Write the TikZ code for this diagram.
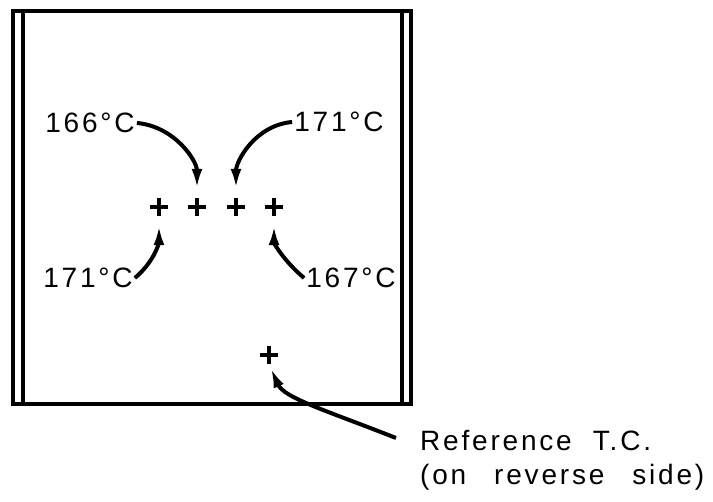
\documentclass[tikz,border=0pt]{standalone}
\usepackage{fontspec}
\newfontfamily\lettering[LetterSpace=10]{Liberation Sans}
\usetikzlibrary{positioning,arrows.meta}

\begin{document}
\begin{tikzpicture}[
    x=1pt, y=1pt,
    >={Latex[length=20pt,width=11pt]},
    frame/.style={
        line width=3.5pt,
        line cap=rect
    },
    tc/.style={
        minimum size=18pt,
        inner sep=0pt,
        path picture={
            \draw[line width=4pt]
                (path picture bounding box.north) -- (path picture bounding box.south)
                (path picture bounding box.west) -- (path picture bounding box.east);
        }
    },
    lbl/.style={
        font=\lettering\fontsize{28}{34}\selectfont,
        inner sep=2pt,
        align=left
    },
    pointer/.style={
        ->,
        line width=4pt,
        shorten >=9pt
    }
]

% --- Canvas ---
\useasboundingbox (0,0) rectangle (713,502);

% --- Plate with its two edge strips ---
\draw[frame] (13,98) rectangle (411,491);
\draw[frame] (23,98) -- (23,491);
\draw[frame] (402,98) -- (402,491);

% --- Thermocouple positions ---
\node[tc] (c1)   at (159,295) {};
\node[tc] (c2)   at (197,295) {};
\node[tc] (c3)   at (236,295) {};
\node[tc] (c4)   at (274,295) {};
\node[tc] (cref) at (269,147) {};

% --- Readings ---
\node[lbl] (t166) at (90,379)  {166°C};
\node[lbl] (t171a) at (339,380) {171°C};
\node[lbl] (t171b) at (88,224) {171°C};
\node[lbl] (t167) at (351,224) {167°C};
\node[lbl, anchor=north west] (ref) at (418,74)
    {Reference\ \ T.C.\\(on\hspace{28pt}reverse\hspace{28pt}side)};

% --- Pointers ---
\draw[pointer] (t166.east)  to[out=-5, in=90]   (c2.north);
\draw[pointer] (t171a.west) to[out=185, in=90]  (c3.north);
\draw[pointer] (t171b.east) to[out=40, in=-90]  (c1.south);
\draw[pointer] (t167.west)  to[out=140, in=-90] (c4.south);
\draw[pointer, shorten >=4pt] ([xshift=-22pt,yshift=-10pt]ref.north west)
    .. controls (325,92) and (284,104) .. (cref.south);

\end{tikzpicture}
\end{document}
